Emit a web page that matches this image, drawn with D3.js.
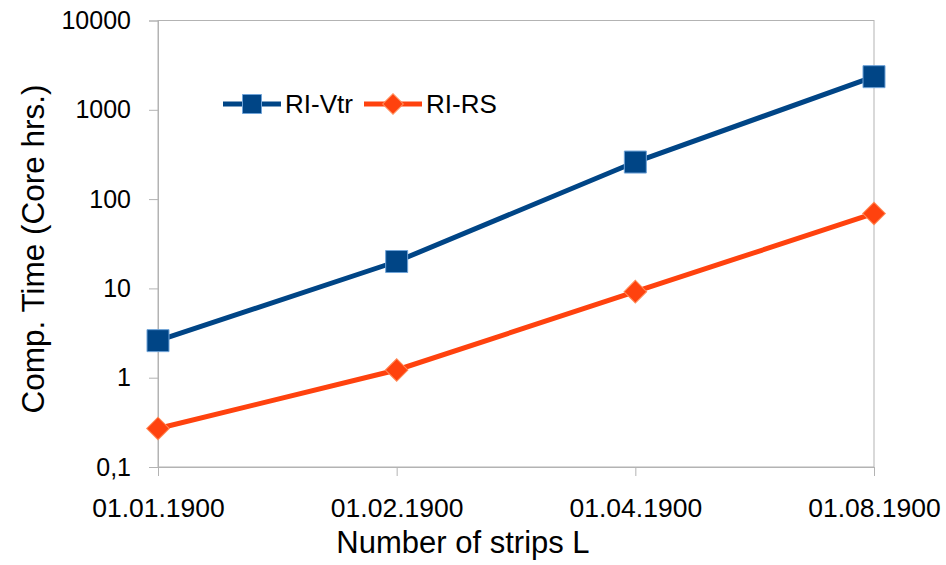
<!DOCTYPE html>
<html>
<head>
<meta charset="utf-8">
<script src="https://cdn.jsdelivr.net/npm/d3@7"></script>
<style>
  body { margin: 0; background: #fff; }
  text { font-family: "Liberation Sans", Arial, sans-serif; fill: #000; }
</style>
</head>
<body>
<div id="chart"></div>
<script>
const categories = ['01.01.1900', '01.02.1900', '01.04.1900', '01.08.1900']
const rivtr = [2.6, 20, 260, 2350]
const rirs = [0.27, 1.22, 9.2, 69]
const yTicks = [0.1, 1, 10, 100, 1000, 10000]

const width = 946
const height = 565
const margin = { top: 20.5, right: 72, bottom: 98, left: 158 }

const svg = d3
  .select('#chart')
  .append('svg')
  .attr('width', width)
  .attr('height', height)

const x = d3
  .scalePoint()
  .domain(categories)
  .range([margin.left, width - margin.right])
  .padding(0)

const y = d3
  .scaleLog()
  .domain([0.1, 10000])
  .range([height - margin.bottom, margin.top])

const axisColor = '#b3b3b3'

// plot area frame
svg
  .append('rect')
  .attr('x', margin.left)
  .attr('y', margin.top)
  .attr('width', width - margin.right - margin.left)
  .attr('height', height - margin.bottom - margin.top)
  .attr('fill', 'none')
  .attr('stroke', axisColor)

const yAxis = svg
  .append('g')
  .attr('transform', `translate(${margin.left},0)`)
  .call(
    d3
      .axisLeft(y)
      .tickValues(yTicks)
      .tickFormat((d) => String(d).replace('.', ','))
      .tickSize(9)
      .tickPadding(18)
  )
yAxis.select('.domain').attr('stroke', axisColor)
yAxis.selectAll('.tick line').attr('stroke', axisColor)
yAxis
  .selectAll('.tick text')
  .attr('font-size', 25)
  .attr('font-family', '"Liberation Sans", Arial, sans-serif')
  .attr('fill', '#000')

const xAxis = svg
  .append('g')
  .attr('transform', `translate(0,${height - margin.bottom})`)
  .call(d3.axisBottom(x).tickSize(9).tickPadding(22))
xAxis.select('.domain').attr('stroke', axisColor)
xAxis.selectAll('.tick line').attr('stroke', axisColor)
xAxis
  .selectAll('.tick text')
  .attr('font-size', 26.5)
  .attr('font-family', '"Liberation Sans", Arial, sans-serif')
  .attr('fill', '#000')

// axis titles
svg
  .append('text')
  .attr('x', 463)
  .attr('y', 553)
  .attr('text-anchor', 'middle')
  .attr('font-size', 31)
  .text('Number of strips L')

svg
  .append('text')
  .attr('transform', 'translate(44,249) rotate(-90)')
  .attr('text-anchor', 'middle')
  .attr('font-size', 31.5)
  .text('Comp. Time (Core hrs.)')

const series = [
  { name: 'RI-Vtr', values: rivtr, color: '#004586', edge: '#6fa3d8', rot: 0, side: 22, legendSide: 19 },
  { name: 'RI-RS', values: rirs, color: '#ff420e', edge: '#ff8c5a', rot: 45, side: 16, legendSide: 14.6 },
]

const line = d3
  .line()
  .x((d, i) => x(categories[i]))
  .y((d) => y(d))

series.forEach((s) => {
  svg
    .append('path')
    .datum(s.values)
    .attr('d', line)
    .attr('fill', 'none')
    .attr('stroke', s.color)
    .attr('stroke-width', 5)

  svg
    .selectAll(null)
    .data(s.values)
    .enter()
    .append('path')
    .attr('d', d3.symbol().type(d3.symbolSquare).size(s.side * s.side))
    .attr('transform', (d, i) => `translate(${x(categories[i])},${y(d)}) rotate(${s.rot})`)
    .attr('fill', s.color)
    .attr('stroke', s.edge)
    .attr('stroke-width', 1)
})

// legend
const legendX = [223, 364]
series.forEach((s, i) => {
  const g = svg.append('g').attr('transform', `translate(${legendX[i]},104)`)
  g.append('line')
    .attr('x1', 0)
    .attr('x2', 58)
    .attr('stroke', s.color)
    .attr('stroke-width', 5)
  g.append('path')
    .attr('d', d3.symbol().type(d3.symbolSquare).size(s.legendSide * s.legendSide))
    .attr('transform', `translate(29,0) rotate(${s.rot})`)
    .attr('fill', s.color)
    .attr('stroke', s.edge)
    .attr('stroke-width', 1)
  g.append('text')
    .attr('x', 62)
    .attr('y', 0)
    .attr('dy', '0.35em')
    .attr('font-size', 26)
    .text(s.name)
})
</script>
</body>
</html>
